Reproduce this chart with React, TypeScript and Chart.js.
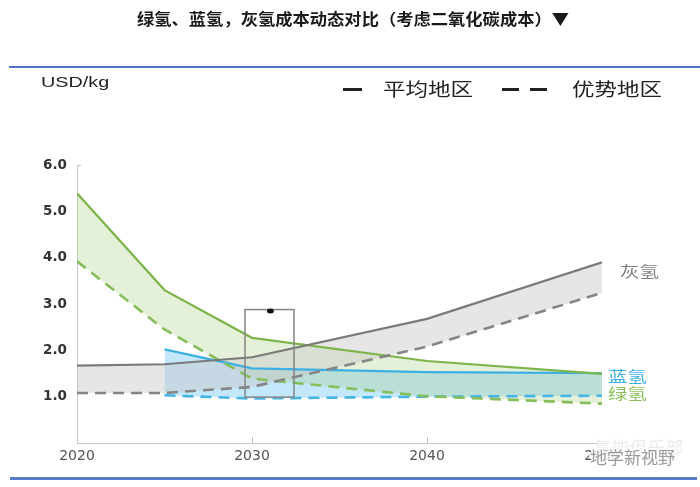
import React, { useEffect, useRef } from "react";
import { Chart, registerables } from "chart.js";

Chart.register(...registerables);

const years = [2020, 2025, 2030, 2040, 2050];
const grayAvg = [1.67, 1.7, 1.85, 2.68, 3.9];
const grayBest = [1.08, 1.08, 1.21, 2.08, 3.24];
const greenAvg = [5.39, 3.3, 2.27, 1.77, 1.49];
const greenBest = [3.92, 2.45, 1.39, 1.01, 0.85];
const blueYears = [2025, 2030, 2040, 2050];
const blueAvg = [2.02, 1.61, 1.53, 1.51];
const blueBest = [1.03, 0.96, 1.0, 1.02];
const xTicks = [2020, 2030, 2040, 2050];
const yTicks = [1, 2, 3, 4, 5, 6];
// highlight box around 2030: [xStart, xEnd, yLow, yHigh], and marker dot [x, y]
const boxRange = [2029.6, 2032.4, 0.99, 2.88];
const boxDot = [2031.05, 2.85];
const seriesLabels = ["灰氢", "蓝氢", "绿氢"];

const GRAY = "#7a7a7a";
const GREEN = "#7db54a";
const BLUE = "#3db0e3";

const pts = (xs: number[], ys: number[]) => xs.map((x, i) => ({ x, y: ys[i] }));

const stretchText = (ctx: any, text: string, x: number, y: number, sx: number) => {
  ctx.save();
  ctx.translate(x, y);
  ctx.scale(sx, 1);
  ctx.fillText(text, 0, 0);
  ctx.restore();
};

const overlay = {
  id: "overlay",
  afterDatasetsDraw(chart: any) {
    const { ctx, scales, chartArea } = chart;
    const xs = scales.x;
    const ys = scales.y;
    ctx.save();
    // inner tick marks
    ctx.strokeStyle = "#c4c4c4";
    ctx.lineWidth = 1;
    ctx.beginPath();
    xTicks.slice(1, 3).forEach((v) => {
      const px = Math.round(xs.getPixelForValue(v)) + 0.5;
      ctx.moveTo(px, chartArea.bottom);
      ctx.lineTo(px, chartArea.bottom - 6);
    });
    ctx.moveTo(chartArea.left, chartArea.top + 0.5);
    ctx.lineTo(chartArea.left + 4, chartArea.top + 0.5);
    ctx.stroke();
    // box
    const x0 = xs.getPixelForValue(boxRange[0]);
    const x1 = xs.getPixelForValue(boxRange[1]);
    const y0 = ys.getPixelForValue(boxRange[3]);
    const y1 = ys.getPixelForValue(boxRange[2]);
    ctx.strokeStyle = "#858585";
    ctx.lineWidth = 1.5;
    ctx.strokeRect(x0, y0, x1 - x0, y1 - y0);
    ctx.fillStyle = "#111";
    ctx.beginPath();
    ctx.ellipse(xs.getPixelForValue(boxDot[0]), ys.getPixelForValue(boxDot[1]), 3.5, 2.5, 0, 0, Math.PI * 2);
    ctx.fill();
    // right labels
    ctx.font = '15px "Noto Sans CJK SC"';
    ctx.textBaseline = "middle";
    ctx.textAlign = "left";
    const xr = xs.getPixelForValue(2050);
    ctx.fillStyle = "#808080";
    stretchText(ctx, seriesLabels[0], xr + 18, ys.getPixelForValue(3.7), 1.3);
    ctx.fillStyle = BLUE;
    stretchText(ctx, seriesLabels[1], xr + 6, ys.getPixelForValue(1.44), 1.3);
    ctx.fillStyle = "#8cc05a";
    stretchText(ctx, seriesLabels[2], xr + 6, ys.getPixelForValue(1.07), 1.3);
    ctx.restore();
  },
  afterDraw(chart: any) {
    const { ctx } = chart;
    ctx.save();
    ctx.font = '17px "Noto Sans CJK SC"';
    ctx.textBaseline = "middle";
    ctx.textAlign = "left";
    ctx.fillStyle = "rgba(232,232,232,0.85)";
    stretchText(ctx, "氢能俱乐部", 594, 448, 1.05);
    ctx.lineWidth = 3;
    ctx.strokeStyle = "rgba(255,255,255,0.9)";
    ctx.strokeText("地学新视野", 590, 458);
    ctx.fillStyle = "#9a9a9a";
    ctx.fillText("地学新视野", 590, 458);
    ctx.restore();
  },
};

export default function App() {
  const ref = useRef<HTMLCanvasElement>(null);
  useEffect(() => {
    if (!ref.current) return;
    const line = (data: any, color: string, fill: any) => ({
      data,
      borderColor: color,
      borderWidth: 2.2,
      pointRadius: 0,
      tension: 0,
      fill: fill,
      backgroundColor: "transparent",
    });
    const dash = [11, 7];
    const chart = new Chart(ref.current, {
      type: "line",
      data: {
        datasets: [
          { ...line(pts(years, grayAvg), GRAY, "+1"), backgroundColor: "rgba(200,200,200,0.45)" },
          { ...line(pts(years, grayBest), "#858585", false), borderDash: dash, borderWidth: 2.6 },
          { ...line(pts(years, greenAvg), GREEN, "+1"), backgroundColor: "rgba(170,205,130,0.3)" },
          { ...line(pts(years, greenBest), "#86bf5a", false), borderDash: dash, borderWidth: 2.6 },
          { ...line(pts(blueYears, blueAvg), BLUE, "+1"), backgroundColor: "rgba(105,195,245,0.4)" },
          { ...line(pts(blueYears, blueBest), "#45b4e6", false), borderDash: dash, borderWidth: 2.6 },
        ],
      },
      options: {
        animation: false,
        responsive: false,
        layout: { padding: { left: 37, right: 98, top: 165, bottom: 14 } },
        plugins: {
          legend: { display: false },
          tooltip: { enabled: false },
          filler: { drawTime: "beforeDatasetsDraw" } as any,
        },
        scales: {
          x: {
            type: "linear",
            min: 2020,
            max: 2050,
            afterFit: (s: any) => { s.height = 30; },
            afterBuildTicks: (s: any) => { s.ticks = xTicks.map((v) => ({ value: v })); },
            grid: { display: false, drawTicks: false },
            border: { color: "#c8c8c8", width: 1 },
            ticks: {
              padding: 5,
              color: "#555",
              font: { family: "DejaVu Sans", size: 14 },
              callback: (v: any) => String(v),
            },
          },
          y: {
            min: 0,
            max: 6,
            afterFit: (s: any) => { s.width = 40; },
            afterBuildTicks: (s: any) => { s.ticks = yTicks.map((v) => ({ value: v })); },
            grid: { display: false, drawTicks: false },
            border: { color: "#c8c8c8", width: 1 },
            ticks: {
              padding: 10,
              color: "#333",
              font: { family: "DejaVu Sans", size: 13.5, weight: "bold" },
              callback: (v: any) => Number(v).toFixed(1),
            },
          },
        },
      },
      plugins: [overlay],
    });
    return () => chart.destroy();
  }, []);

  const cjk = '"Noto Sans CJK SC", "Noto Sans", sans-serif';
  return (
    <div style={{ position: "fixed", left: 0, top: 0, width: 700, height: 487, background: "#fff", overflow: "hidden" }}>
      <canvas ref={ref} width={700} height={487} style={{ position: "absolute", left: 0, top: 0 }} />
      <div style={{ position: "absolute", left: 137, top: 6, fontFamily: cjk, fontWeight: "bold", fontSize: 16, color: "#1a1a1a", lineHeight: "24px", whiteSpace: "nowrap", transform: "scaleX(1.08)", transformOrigin: "left center" }}>
        绿氢、蓝氢，灰氢成本动态对比（考虑二氧化碳成本）▼
      </div>
      <div style={{ position: "absolute", left: 9, width: 691, top: 66, height: 2, background: "#4f73c4" }} />
      <div style={{ position: "absolute", left: 10, width: 687, top: 477, height: 3, background: "#5b7cc8" }} />
      <div style={{ position: "absolute", left: 41, top: 72, fontFamily: "Liberation Sans, Arial", fontSize: 15, color: "#222", lineHeight: "20px", transform: "scaleX(1.32)", transformOrigin: "left center" }}>USD/kg</div>
      <div style={{ position: "absolute", left: 343, top: 88, width: 19, height: 3, background: "#222" }} />
      <div style={{ position: "absolute", left: 383, top: 76, fontFamily: cjk, fontSize: 18, color: "#222", lineHeight: "24px", whiteSpace: "nowrap", transform: "scaleX(1.25)", transformOrigin: "left center" }}>平均地区</div>
      <div style={{ position: "absolute", left: 502, top: 88, width: 17, height: 3, background: "#222" }} />
      <div style={{ position: "absolute", left: 530, top: 88, width: 17, height: 3, background: "#222" }} />
      <div style={{ position: "absolute", left: 572, top: 76, fontFamily: cjk, fontSize: 18, color: "#222", lineHeight: "24px", whiteSpace: "nowrap", transform: "scaleX(1.25)", transformOrigin: "left center" }}>优势地区</div>
    </div>
  );
}
